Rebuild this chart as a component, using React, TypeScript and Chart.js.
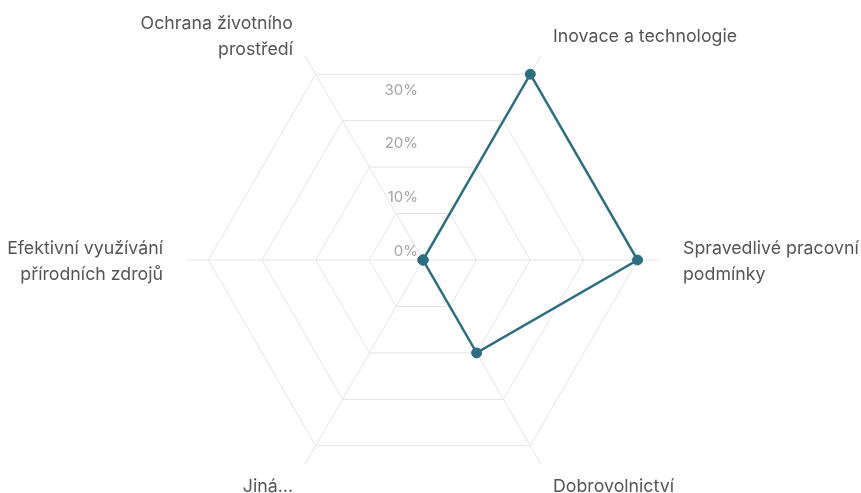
import React, { useEffect, useRef } from 'react';
import { Chart, registerables } from 'chart.js';

Chart.register(...registerables);

// ---- data ----
const categories: (string | string[])[] = [
  'Inovace a technologie',
  ['Spravedlivé pracovní', 'podmínky'],
  'Dobrovolnictví',
  'Jiná...',
  ['Efektivní využívání', 'přírodních zdrojů'],
  ['Ochrana životního', 'prostředí'],
];
const seriesValues = [40, 40, 20, 0, 0, 0];
const tickValues = [0, 10, 20, 30];
const tickLabels = ['0%', '10%', '20%', '30%'];

const LINE_COLOR = '#2e6e80';
const GRID_COLOR = '#e4e4e4';
const FONT = 'Inter, "Noto Sans", sans-serif';

const labelsPlugin = {
  id: 'customRadarLabels',
  afterDraw(chart: any) {
    const scale = chart.scales.r;
    const ctx = chart.ctx as CanvasRenderingContext2D;
    ctx.save();
    ctx.font = `17.75px ${FONT}`;
    ctx.fillStyle = '#555555';
    ctx.textBaseline = 'middle';
    const lh = 26;
    categories.forEach((label, i) => {
      const pos = scale.getPointPosition(i, scale.drawingArea + 24);
      const lines = Array.isArray(label) ? label : [label];
      const dx = pos.x - scale.xCenter;
      ctx.textAlign = Math.abs(dx) < 1 ? 'center' : dx > 0 ? 'left' : 'right';
      const top = pos.y + 1.5 - ((lines.length - 1) * lh) / 2;
      lines.forEach((ln, j) => ctx.fillText(ln, pos.x, top + j * lh));
    });
    ctx.restore();
  },
  beforeDatasetsDraw(chart: any) {
    const scale = chart.scales.r;
    const ctx = chart.ctx as CanvasRenderingContext2D;
    ctx.save();
    ctx.font = `15px ${FONT}`;
    ctx.fillStyle = '#a3a3a3';
    ctx.textAlign = 'right';
    ctx.textBaseline = 'middle';
    tickValues.forEach((v, i) => {
      const d = scale.getDistanceFromCenterForValue(v);
      ctx.fillText(tickLabels[i], scale.xCenter - 5, scale.yCenter - d - 9);
    });
    ctx.restore();
  },
};

export default function App() {
  const ref = useRef<HTMLCanvasElement | null>(null);
  useEffect(() => {
    if (!ref.current) return;
    const chart = new Chart(ref.current, {
      type: 'radar',
      data: {
        labels: categories as any,
        datasets: [
          {
            data: seriesValues,
            borderColor: LINE_COLOR,
            backgroundColor: LINE_COLOR,
            pointBackgroundColor: LINE_COLOR,
            pointBorderColor: LINE_COLOR,
            pointRadius: 5,
            pointBorderWidth: 1,
            borderWidth: 2.5,
            fill: false,
          },
        ],
      },
      options: {
        animation: false,
        responsive: true,
        maintainAspectRatio: false,
        layout: { padding: { left: 0, right: 14, top: 24, bottom: 0 } },
        plugins: { legend: { display: false }, tooltip: { enabled: false } },
        scales: {
          r: {
            min: 0,
            max: 44,
            startAngle: 30,
            ticks: { display: false, stepSize: 10, includeBounds: false },
            grid: { color: GRID_COLOR, lineWidth: 1 },
            angleLines: { color: GRID_COLOR, lineWidth: 1 },
            pointLabels: { display: false },
          },
        },
      },
      plugins: [labelsPlugin],
    });
    return () => chart.destroy();
  }, []);
  return (
    <div style={{ position: 'absolute', left: 0, top: 0, width: 861, height: 493, overflow: 'hidden', background: '#fff' }}>
      <div style={{ position: 'relative', width: 861, height: 497 }}>
        <canvas ref={ref} />
      </div>
    </div>
  );
}
